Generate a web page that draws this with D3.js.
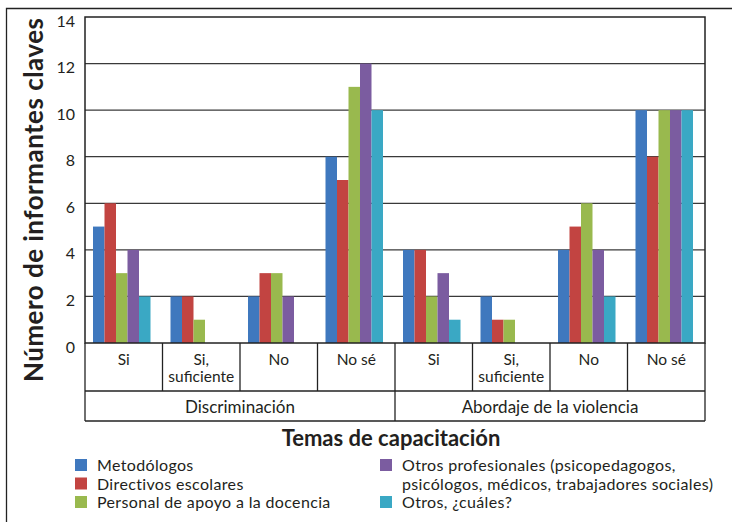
<!DOCTYPE html>
<html>
<head>
<meta charset="utf-8">
<script src="https://cdn.jsdelivr.net/npm/d3@7"></script>
<style>
  body { margin: 0; background: #fff; }
  text { font-family: Lato, "Noto Sans", sans-serif; fill: #231f20; }
</style>
</head>
<body>
<div id="chart"></div>
<script>
// themes and answers along the bottom
var temas = ["Discriminación", "Abordaje de la violencia"]
var respuestas = [["Si"], ["Si,", "suficiente"], ["No"], ["No sé"]]
var series = ["Metodólogos", "Directivos escolares", "Personal de apoyo a la docencia",
  "Otros profesionales (psicopedagogos, psicólogos, médicos, trabajadores sociales)", "Otros, ¿cuáles?"]
var colors = ["#3f78be", "#c24441", "#99b94e", "#7b5ca0", "#3aa8c4"]

// one row per category (tema x respuesta), one value per series
var discriminacion = [
  [5, 6, 3, 4, 2],
  [2, 2, 1, 0, 0],
  [2, 3, 3, 2, 0],
  [8, 7, 11, 12, 10]
]
var abordaje = [
  [4, 4, 2, 3, 1],
  [2, 1, 1, 0, 0],
  [4, 5, 6, 4, 2],
  [10, 8, 10, 10, 10]
]
var yTicks = [0, 2, 4, 6, 8, 10, 12, 14]

var width = 732, height = 522
var margin = { top: 17, left: 85, right: 705, bottom: 343 }

var svg = d3.select("#chart").append("svg")
  .attr("width", width).attr("height", height)

// outer frame
svg.append("path")
  .attr("d", "M6.5,530 V8.5 H740")
  .attr("fill", "none").attr("stroke", "#222").attr("stroke-width", 1.3)

var cats = []
temas.forEach(function (t, ti) {
  var vals = ti == 0 ? discriminacion : abordaje
  respuestas.forEach(function (r, ri) {
    cats.push({ id: ti + "-" + ri, tema: t, label: r, values: vals[ri] })
  })
})

var x = d3.scaleBand()
  .domain(cats.map(d => d.id))
  .range([margin.left, margin.right])

var xs = d3.scaleBand()
  .domain(d3.range(series.length))
  .range([8, x.bandwidth() - 12])
  .paddingInner(0)

var y = d3.scaleLinear()
  .domain([0, 14])
  .range([margin.bottom, margin.top])

// gridlines
svg.append("g")
  .selectAll("line")
  .data(yTicks.slice(1, -1))
  .join("line")
  .attr("x1", margin.left).attr("x2", margin.right)
  .attr("y1", d => y(d)).attr("y2", d => y(d))
  .attr("stroke", "#3a3a3a").attr("stroke-width", 1.2)

// bars
svg.append("g")
  .selectAll("g")
  .data(cats)
  .join("g")
  .attr("transform", d => `translate(${x(d.id)},0)`)
  .selectAll("rect")
  .data(d => d.values.map((v, i) => ({ v: v, i: i })).filter(e => e.v > 0))
  .join("rect")
  .attr("x", d => xs(d.i))
  .attr("width", xs.bandwidth())
  .attr("y", d => y(d.v))
  .attr("height", d => y(0) - y(d.v))
  .attr("fill", d => colors[d.i])

// plot border
svg.append("rect")
  .attr("x", margin.left).attr("y", margin.top)
  .attr("width", margin.right - margin.left)
  .attr("height", margin.bottom - margin.top)
  .attr("fill", "none").attr("stroke", "#222").attr("stroke-width", 1.5)

// y tick labels
svg.append("g")
  .selectAll("text")
  .data(yTicks)
  .join("text")
  .attr("x", 75)
  .attr("y", d => y(d) + 4)
  .attr("dy", "0.35em")
  .attr("text-anchor", "end")
  .attr("font-size", 16)
  .text(d => d)

// category table below axis
var row1 = 391, row2 = 421
var table = svg.append("g")
  .attr("stroke", "#222").attr("stroke-width", 1.3).attr("fill", "none")
table.append("line").attr("x1", margin.left).attr("x2", margin.right).attr("y1", row1).attr("y2", row1)
table.append("line").attr("x1", margin.left).attr("x2", margin.right).attr("y1", row2).attr("y2", row2)
table.append("line").attr("x1", margin.left).attr("x2", margin.left).attr("y1", margin.bottom).attr("y2", row2)
table.append("line").attr("x1", margin.right).attr("x2", margin.right).attr("y1", margin.bottom).attr("y2", row2)
table.selectAll(".div")
  .data(cats.slice(1))
  .join("line")
  .attr("x1", d => x(d.id)).attr("x2", d => x(d.id))
  .attr("y1", margin.bottom)
  .attr("y2", (d, i) => (i + 1) % respuestas.length == 0 ? row2 : row1)

svg.append("g")
  .selectAll("text")
  .data(cats)
  .join("text")
  .attr("text-anchor", "middle")
  .attr("font-size", 15.5)
  .attr("x", d => x(d.id) + x.bandwidth() / 2)
  .attr("y", 365)
  .selectAll("tspan")
  .data(d => d.label)
  .join("tspan")
  .attr("x", function () { return d3.select(this.parentNode).attr("x") })
  .attr("dy", (d, i) => i == 0 ? 0 : 17)
  .text(d => d)

svg.append("g")
  .selectAll("text")
  .data(temas)
  .join("text")
  .attr("text-anchor", "middle")
  .attr("font-size", 17)
  .attr("x", (d, i) => {
    var ids = cats.filter(c => c.tema == d).map(c => c.id)
    return (x(ids[0]) + x(ids[ids.length - 1]) + x.bandwidth()) / 2
  })
  .attr("y", 413)
  .text(d => d)

// axis titles
svg.append("text")
  .attr("transform", "translate(43,200) rotate(-90)")
  .attr("text-anchor", "middle")
  .attr("font-size", 26)
  .attr("font-weight", "bold")
  .attr("textLength", 364)
  .attr("lengthAdjust", "spacing")
  .text("Número de informantes claves")

svg.append("text")
  .attr("x", 391).attr("y", 446)
  .attr("text-anchor", "middle")
  .attr("font-size", 22)
  .attr("font-weight", "bold")
  .text("Temas de capacitación")

// legend, two columns
var legendPos = [
  { x: 75, y: 459, lines: ["Metodólogos"] },
  { x: 75, y: 477.5, lines: ["Directivos escolares"] },
  { x: 75, y: 496, lines: ["Personal de apoyo a la docencia"] },
  { x: 380, y: 459, lines: ["Otros profesionales (psicopedagogos,", "psicólogos, médicos, trabajadores sociales)"] },
  { x: 380, y: 496, lines: ["Otros, ¿cuáles?"] }
]
var legend = svg.append("g")
  .selectAll("g")
  .data(series)
  .join("g")
  .attr("transform", (d, i) => `translate(${legendPos[i].x},${legendPos[i].y})`)
legend.append("rect")
  .attr("width", 12).attr("height", 12)
  .attr("fill", (d, i) => colors[i])
legend.append("text")
  .attr("x", 22).attr("y", 12)
  .attr("font-size", 16)
  .attr("letter-spacing", 0.35)
  .selectAll("tspan")
  .data((d, i) => legendPos[i].lines)
  .join("tspan")
  .attr("x", 22)
  .attr("dy", (d, i) => i == 0 ? 0 : 18.5)
  .text(d => d)
</script>
</body>
</html>
